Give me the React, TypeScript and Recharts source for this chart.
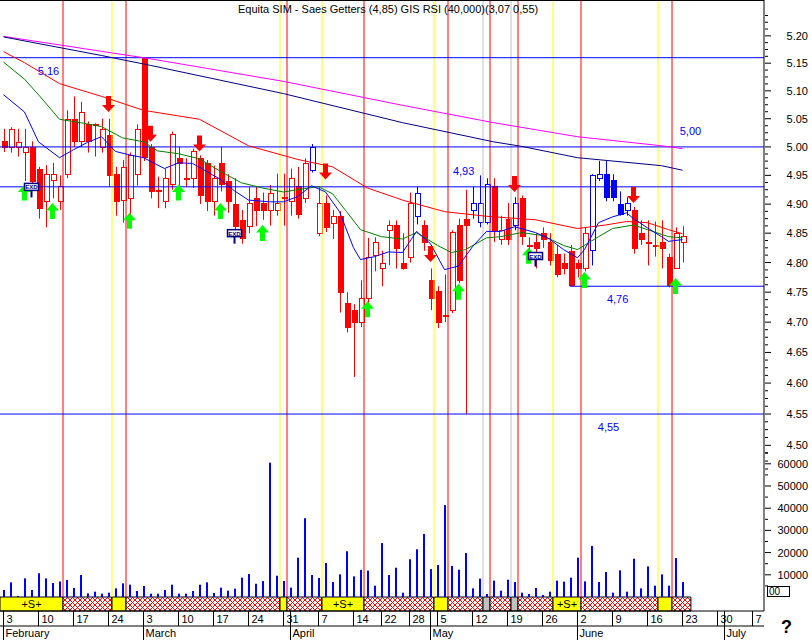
import React from 'react';
import {
  ComposedChart, Bar, Line, Scatter, XAxis, YAxis,
  ReferenceLine, ReferenceArea, ReferenceDot,
} from 'recharts';

// daily candles, 3 Feb - 23 Jun (trading days only)
const OPEN = [
  5.011, 5.0, 5.0, 4.991, 5.0, 4.962, 4.905, 4.942, 4.905, 4.952,
  5.05, 5.011, 5.04, 5.04, 5.0, 5.021, 4.952, 4.907, 4.91, 4.952,
  5.16, 5.0, 4.925, 4.905, 4.935, 4.98, 4.945, 4.945, 4.98, 4.972,
  4.905, 4.972, 4.94, 4.9, 4.873, 4.862, 4.91, 4.902, 4.89, 4.89,
  4.912, 4.905, 4.932, 4.91, 4.96, 4.85, 4.902, 4.868, 4.88, 4.732,
  4.72, 4.7, 4.74, 4.812, 4.79, 4.855, 4.864, 4.8, 4.81, 4.88,
  4.864, 4.77, 4.752, 4.712, 4.72, 4.864, 4.874, 4.89, 4.87, 4.87,
  4.932, 4.84, 4.874, 4.864, 4.91, 4.83, 4.835, 4.85, 4.835, 4.815,
  4.8, 4.82, 4.8, 4.79, 4.822, 4.945, 4.952, 4.942, 4.9, 4.89,
  4.89, 4.85, 4.835, 4.83, 4.835, 4.81, 4.79, 4.835,
];
const HIGH = [
  5.032, 5.035, 5.032, 5.032, 5.01, 4.965, 4.968, 4.972, 4.95, 5.065,
  5.09, 5.08, 5.045, 5.042, 5.05, 5.05, 4.965, 4.977, 4.99, 5.04,
  5.16, 5.005, 4.948, 4.962, 5.027, 5.0, 4.98, 4.997, 4.985, 4.977,
  4.967, 5.0, 4.952, 4.945, 4.89, 4.93, 4.93, 4.92, 4.933, 4.953,
  4.953, 4.962, 4.965, 4.98, 5.005, 4.93, 4.915, 4.89, 4.888, 4.75,
  4.73, 4.77, 4.842, 4.843, 4.82, 4.872, 4.872, 4.85, 4.92, 4.93,
  4.872, 4.79, 4.76, 4.78, 4.855, 4.875, 4.925, 4.93, 4.95, 4.945,
  4.945, 4.88, 4.902, 4.912, 4.915, 4.843, 4.85, 4.86, 4.85, 4.83,
  4.815, 4.83, 4.805, 4.86, 4.952, 4.975, 4.975, 4.952, 4.922, 4.912,
  4.895, 4.872, 4.872, 4.87, 4.872, 4.815, 4.86, 4.862,
];
const LOW = [
  4.991, 4.99, 4.983, 4.94, 4.935, 4.875, 4.86, 4.91, 4.89, 4.945,
  5.0, 5.0, 4.99, 4.983, 4.99, 4.93, 4.88, 4.868, 4.88, 4.932,
  4.975, 4.91, 4.893, 4.893, 4.925, 4.932, 4.93, 4.928, 4.9, 4.888,
  4.88, 4.922, 4.885, 4.855, 4.832, 4.85, 4.862, 4.873, 4.863, 4.88,
  4.863, 4.88, 4.875, 4.902, 4.955, 4.845, 4.852, 4.84, 4.716, 4.683,
  4.61, 4.692, 4.73, 4.785, 4.76, 4.795, 4.79, 4.788, 4.8, 4.865,
  4.82, 4.72, 4.69, 4.7, 4.715, 4.765, 4.55, 4.875, 4.86, 4.865,
  4.835, 4.83, 4.83, 4.855, 4.83, 4.815, 4.79, 4.825, 4.795, 4.775,
  4.78, 4.76, 4.775, 4.785, 4.795, 4.94, 4.905, 4.905, 4.88, 4.88,
  4.815, 4.83, 4.795, 4.81, 4.79, 4.758, 4.79, 4.8,
];
const CLOSE = [
  5.0, 5.032, 5.009, 5.0, 4.94, 4.893, 4.952, 4.952, 4.932, 5.05,
  5.011, 5.062, 5.011, 5.038, 5.032, 4.95, 4.905, 4.965, 4.985, 5.032,
  4.983, 4.922, 4.922, 4.945, 5.022, 4.972, 4.943, 4.993, 4.915, 4.905,
  4.945, 4.935, 4.905, 4.862, 4.842, 4.902, 4.89, 4.89, 4.92, 4.902,
  4.91, 4.945, 4.883, 4.972, 5.0, 4.902, 4.86, 4.88, 4.75, 4.692,
  4.7, 4.74, 4.81, 4.835, 4.8, 4.864, 4.825, 4.79, 4.902, 4.92,
  4.835, 4.74, 4.7, 4.71, 4.852, 4.77, 4.864, 4.902, 4.902, 4.935,
  4.855, 4.855, 4.84, 4.902, 4.845, 4.828, 4.825, 4.84, 4.805, 4.78,
  4.79, 4.762, 4.79, 4.85, 4.95, 4.952, 4.912, 4.912, 4.883, 4.902,
  4.825, 4.84, 4.833, 4.83, 4.825, 4.762, 4.85, 4.845,
];
const BLUE_CANDLES = [44, 59, 67, 68, 69, 73, 84, 85, 86, 87, 88, 89];
const VOLUME = [
  3150, 6600, 500, 8400, 3150, 10700, 8400, 6300, 7000, 7650,
  4050, 9900, 1650, 2400, 1500, 1950, 3900, 6150, 5550, 2700,
  4950, 1500, 1500, 3150, 5550, 1500, 1500, 2700, 5550, 6600,
  1800, 4200, 2850, 3750, 8700, 10350, 6000, 7200, 60500, 9600,
  7200, 4200, 17700, 35500, 9900, 8550, 15300, 6750, 10200, 20600,
  9300, 12200, 11900, 5100, 24300, 9900, 13200, 1950, 17000, 21500,
  28400, 12600, 14400, 41400, 14000, 12300, 19800, 3900, 8300, 1350,
  7350, 2850, 7800, 6750, 1950, 1350, 4050, 900, 2400, 7350,
  6900, 8700, 17700, 7050, 23000, 6750, 11250, 1950, 12000, 2400,
  17250, 3900, 13800, 5100, 10200, 5100, 17550, 6750,
];

// moving averages, read at the candles listed in *_AT
const MA_MAGENTA_AT = [0, 21, 40, 57, 70, 82, 94, 97];
const MA_MAGENTA = [5.199, 5.158, 5.117, 5.074, 5.043, 5.018, 5.002, 4.997];
const MA_NAVY_AT = [0, 14, 21, 40, 57, 70, 74, 82, 94, 97];
const MA_NAVY = [5.198, 5.164, 5.146, 5.095, 5.043, 5.009, 5.001, 4.981, 4.967, 4.959];
const MA_RED_AT = [0, 3, 8, 14, 20, 28, 35, 42, 47, 52, 57, 63, 69, 76, 82, 86, 89, 92, 95, 97];
const MA_RED = [5.171, 5.151, 5.113, 5.09, 5.065, 5.049, 5.002, 4.978, 4.965, 4.928,
  4.907, 4.887, 4.879, 4.873, 4.858, 4.864, 4.87, 4.868, 4.856, 4.849];
const MA_GREEN_AT = [0, 3, 5, 8, 11, 14, 17, 20, 22, 25, 28, 31, 34, 37, 40, 43, 45, 47, 49, 51,
  54, 57, 59, 62, 64, 66, 69, 71, 74, 77, 80, 82, 85, 87, 90, 92, 95, 97];
const MA_GREEN = [5.152, 5.121, 5.093, 5.049, 5.043, 5.036, 5.016, 5.009, 4.993, 4.988,
  4.979, 4.957, 4.937, 4.928, 4.921, 4.927, 4.93, 4.918, 4.887, 4.856,
  4.844, 4.84, 4.851, 4.829, 4.817, 4.822, 4.842, 4.844, 4.851, 4.846,
  4.829, 4.822, 4.844, 4.858, 4.864, 4.856, 4.844, 4.842];
const MA_BLUE_AT = [0, 3, 5, 8, 10, 12, 14, 16, 18, 20, 23, 25, 27, 29, 31, 33, 35, 38, 40, 42,
  44, 46, 48, 50, 51, 53, 55, 57, 59, 61, 63, 65, 67, 69, 71, 73, 76, 78, 80, 82,
  83, 85, 87, 89, 90, 92, 94, 95, 97];
const MA_BLUE = [5.093, 5.062, 5.009, 4.981, 4.995, 5.008, 5.018, 4.992, 4.986, 4.981,
  4.962, 4.972, 4.971, 4.957, 4.943, 4.923, 4.907, 4.904, 4.904, 4.913,
  4.932, 4.921, 4.887, 4.825, 4.805, 4.81, 4.818, 4.817, 4.853, 4.832,
  4.788, 4.794, 4.827, 4.853, 4.853, 4.861, 4.851, 4.84, 4.822, 4.808,
  4.822, 4.868, 4.878, 4.885, 4.875, 4.859, 4.844, 4.836, 4.839];

// signals
const SELL_AT = [15, 21, 28, 46, 61, 73, 90];
const SELL_PRICE = [5.062, 5.009, 4.992, 4.943, 4.801, 4.921, 4.902];
const BUY_AT = [3, 7, 18, 25, 31, 37, 52, 65, 75, 83, 96];
const BUY_PRICE = [4.934, 4.902, 4.885, 4.934, 4.902, 4.864, 4.735, 4.764, 4.825, 4.784, 4.774];
const EXD_AT = [4, 33, 76];
const EXD_PRICE = [4.936, 4.856, 4.817];

const RED_LINES = [8.5, 17.5, 40.5, 51.5, 63.5, 69.5, 73.5, 82.5, 95.5];
const YELLOW_LINES = [15.5, 39.5, 45.5, 61.5, 78.5, 93.5];
const GREY_LINES = [68.5, 72.5];

const LEVELS = [5.16, 5.0, 4.93, 4.76, 4.55];
const LEVEL_TEXT = ['5,16', '5,00', '4,93', '4,76', '4,55'];
const LEVEL_TEXT_AT = [4.9, 96.6, 64.2, 86.2, 84.9];
const LEVEL_TEXT_BELOW = [true, false, false, true, true];
const LEVEL_FROM = [null, null, null, 80.9, null];

const STRIP_FROM = [-0.5, 8.5, 15.5, 17.5, 39.5, 40.5, 45.5, 51.5, 61.5, 63.5, 68.5, 69.5, 72.5, 73.5, 78.5, 82.5, 93.5, 95.5];
const STRIP_TO = [8.5, 15.5, 17.5, 39.5, 40.5, 45.5, 51.5, 61.5, 63.5, 68.5, 69.5, 72.5, 73.5, 78.5, 82.5, 93.5, 95.5, 98.2];
const STRIP_KIND = ['S', 'h', 'y', 'h', 'y', 'h', 'S', 'h', 'y', 'h', 'g', 'h', 'g', 'h', 'S', 'h', 'y', 'h'];

const DAY_TICKS = [0, 5, 10, 15, 20, 25, 30, 35, 40, 45, 50, 54, 58, 62, 67, 72, 77, 82, 87, 92, 97, 102, 107];
const DAY_LABELS = ['3', '10', '17', '24', '3', '10', '17', '24', '31', '7', '14', '22', '28', '5', '12', '19', '26', '2', '9', '16', '23', '30', '7'];
const MONTH_TICKS = [0, 20, 41, 61, 82, 103];
const MONTH_LABELS = ['February', 'March', 'April', 'May', 'June', 'July'];

const PRICE_LABELS = [4.5, 4.55, 4.6, 4.65, 4.7, 4.75, 4.8, 4.85, 4.9, 4.95, 5.0, 5.05, 5.1, 5.15, 5.2];
const VOLUME_LABELS = [10000, 20000, 30000, 40000, 50000, 60000];

const TITLE = 'Equita SIM - Saes Getters (4,85) GIS RSI (40,000)(3,07 0,55)';

// layout
const W = 812;
const H = 640;
const AXIS_X = 765;
const ROW1 = 611;
const ROW2 = 626;
const X_DOMAIN = [-0.5, 108.64];
const PRICE_DOMAIN = [4.2443, 5.2662];
const VOL_DOMAIN = [-6306, 268919];
const FONT = '"Liberation Sans", Arial, sans-serif';

const RED = '#ff0000';
const BLUE = '#0000ff';

const rows = OPEN.map((o, i) => ({
  i,
  open: o,
  high: HIGH[i],
  low: LOW[i],
  close: CLOSE[i],
  range: [LOW[i], HIGH[i]],
  blue: BLUE_CANDLES.includes(i),
  vol: VOLUME[i],
}));

const series = (idx: number[], vals: number[]) => idx.map((i, k) => ({ i, v: vals[k] }));
const MAS = [
  { key: 'magenta', color: '#ff00ff', data: series(MA_MAGENTA_AT, MA_MAGENTA) },
  { key: 'navy', color: '#000080', data: series(MA_NAVY_AT, MA_NAVY) },
  { key: 'red', color: RED, data: series(MA_RED_AT, MA_RED) },
  { key: 'green', color: '#008000', data: series(MA_GREEN_AT, MA_GREEN) },
  { key: 'blue', color: BLUE, data: series(MA_BLUE_AT, MA_BLUE) },
];

const sells = SELL_AT.map((i, k) => ({ i, p: SELL_PRICE[k] }));
const buys = BUY_AT.map((i, k) => ({ i, p: BUY_PRICE[k] }));
const exds = EXD_AT.map((i, k) => ({ i, p: EXD_PRICE[k] }));

const PRICE_TICKS = [4.4625, 4.475, 4.4875, ...PRICE_LABELS.flatMap(v => [v, v + 0.0125, v + 0.025, v + 0.0375])];
const VOL_TICKS = [0, 5000, ...VOLUME_LABELS.flatMap(v => [v, v + 5000])];

// candle drawn inside the low-high bar; open/close placed on the log scale
const Candle = (props: any) => {
  const { x, y, width, height, payload } = props;
  if (x == null || y == null) return null;
  const { open, close, high, low, blue } = payload;
  const color = blue ? BLUE : RED;
  const cx = Math.round(x + width / 2) + 0.5;
  const lh = Math.log(high);
  const span = lh - Math.log(low);
  const yOf = (v: number) => (span > 0 ? y + (height * (lh - Math.log(v))) / span : y);
  const yo = yOf(open);
  const yc = yOf(close);
  const top = Math.round(Math.min(yo, yc)) + 0.5;
  const bot = Math.round(Math.max(yo, yc)) + 0.5;
  const hollow = close >= open;
  return (
    <g>
      <line x1={cx} x2={cx} y1={y} y2={y + height} stroke={color} />
      <rect x={cx - 2.5} y={top} width={5} height={Math.max(bot - top, 1)}
        fill={hollow ? '#fff' : color} stroke={color} shapeRendering="crispEdges" />
    </g>
  );
};

const SellArrow = (p: any) => (
  <path d={`M${p.cx - 2.5},${p.cy - 16} h5 v9 h4 L${p.cx},${p.cy} L${p.cx - 6.5},${p.cy - 7} h4 z`} fill={RED} />
);
const BuyArrow = (p: any) => (
  <path d={`M${p.cx},${p.cy} L${p.cx + 6.5},${p.cy + 7.5} h-4 v8.5 h-5 v-8.5 h-4 z`} fill="#00ff00" />
);
const ExdFlag = (p: any) => (
  <g>
    <line x1={p.cx} x2={p.cx} y1={p.cy + 6} y2={p.cy + 14} stroke="#000080" strokeWidth={2} />
    <rect x={p.cx - 7} y={p.cy} width={14} height={7} fill="#fff" stroke="#000080" strokeWidth={1.5} />
    <text x={p.cx} y={p.cy + 6} fontSize={6} fontFamily={FONT} fontWeight="bold" fill="#000080" textAnchor="middle">EXD</text>
  </g>
);

const PriceTick = (props: any) => {
  const { y, payload } = props;
  const v = payload.value;
  const major = PRICE_LABELS.some(l => Math.abs(l - v) < 1e-6);
  return (
    <g>
      <line x1={AXIS_X} x2={AXIS_X + (major ? 6 : 3)} y1={y} y2={y} stroke="#000" />
      {major && (
        <text x={808} y={y + 4} textAnchor="end" fontSize={11} fontFamily={FONT} fill="#000">{v.toFixed(2)}</text>
      )}
    </g>
  );
};

const VolTick = (props: any) => {
  const { y, payload } = props;
  const v = payload.value;
  if (v === 0) {
    return (
      <g>
        <rect x={767.5} y={y - 10.5} width={22} height={10} fill="#fff" stroke="#000" />
        <text x={769} y={y - 2} fontSize={10} fontFamily={FONT} fill="#000">00</text>
      </g>
    );
  }
  const major = VOLUME_LABELS.includes(v);
  return (
    <g>
      <line x1={AXIS_X} x2={AXIS_X + (major ? 6 : 3)} y1={y} y2={y} stroke="#000" />
      {major && (
        <text x={808} y={y + 4} textAnchor="end" fontSize={11} fontFamily={FONT} fill="#000">{v}</text>
      )}
    </g>
  );
};

const DayTick = (props: any) => {
  const { x, payload } = props;
  const k = DAY_TICKS.indexOf(payload.value);
  const lx = Math.round(x) - 0.5;
  return (
    <g>
      <line x1={lx} x2={lx} y1={ROW1} y2={ROW2} stroke="#000" />
      <text x={lx + 3} y={ROW2 - 3} fontSize={11} fontFamily={FONT} fill="#000">{DAY_LABELS[k]}</text>
    </g>
  );
};

const MonthTick = (props: any) => {
  const { x, payload } = props;
  const k = MONTH_TICKS.indexOf(payload.value);
  const lx = Math.round(x) - 0.5;
  return (
    <g>
      <line x1={lx} x2={lx} y1={ROW1} y2={H} stroke="#000" />
      <text x={lx + 2} y={H - 3} fontSize={11} fontFamily={FONT} fill="#000">{MONTH_LABELS[k]}</text>
    </g>
  );
};

const stripFill = (kind: string) =>
  kind === 'h' ? 'url(#hatch)' : kind === 'g' ? '#c0c0c0' : '#ffff00';

const vLine = (v: number, color: string, key: string) => (
  <ReferenceLine key={key} xAxisId="x" yAxisId="vol" stroke={color}
    segment={[{ x: v, y: 0 }, { x: v, y: VOL_DOMAIN[1] }]} />
);

export default function App() {
  return (
    <div style={{ position: 'absolute', left: 0, top: 0, width: W, height: H, background: '#fff' }}>
      <ComposedChart width={W} height={H} data={rows} margin={{ top: 0, right: 0, bottom: 0, left: 0 }}>
        <defs>
          <pattern id="hatch" width="5" height="5" patternUnits="userSpaceOnUse">
            <rect width="5" height="5" fill="#fff" />
            <path d="M0,0 L5,5 M5,0 L0,5" stroke={RED} strokeWidth="1" />
          </pattern>
        </defs>

        <XAxis xAxisId="x" dataKey="i" type="number" domain={X_DOMAIN} allowDataOverflow hide />
        <XAxis xAxisId="xv" dataKey="i" type="number" domain={X_DOMAIN} allowDataOverflow hide />
        <XAxis xAxisId="day" dataKey="i" type="number" domain={X_DOMAIN} allowDataOverflow
          ticks={DAY_TICKS} interval={0} height={15} tickLine={false}
          axisLine={{ stroke: '#000' }} tick={(p: any) => <DayTick {...p} />} />
        <XAxis xAxisId="month" dataKey="i" type="number" domain={X_DOMAIN} allowDataOverflow
          ticks={MONTH_TICKS} interval={0} height={14} tickLine={false}
          axisLine={{ stroke: '#000' }} tick={(p: any) => <MonthTick {...p} />} />

        <YAxis yAxisId="price" orientation="right" width={46} scale="log" domain={PRICE_DOMAIN}
          allowDataOverflow ticks={PRICE_TICKS} interval={0} tickLine={false}
          axisLine={false} tick={(p: any) => <PriceTick {...p} />} />
        <YAxis yAxisId="vol" orientation="right" width={2} domain={VOL_DOMAIN} allowDataOverflow
          ticks={VOL_TICKS} interval={0} tickLine={false} axisLine={false}
          tick={(p: any) => <VolTick {...p} />} />

        {RED_LINES.map((v, k) => vLine(v, RED, `r${k}`))}
        {YELLOW_LINES.map((v, k) => vLine(v, '#ffff00', `y${k}`))}
        {GREY_LINES.map((v, k) => vLine(v, '#c0c0c0', `g${k}`))}

        {LEVELS.map((v, k) =>
          LEVEL_FROM[k] == null ? (
            <ReferenceLine key={`l${k}`} xAxisId="x" yAxisId="price" y={v} stroke={BLUE} />
          ) : (
            <ReferenceLine key={`l${k}`} xAxisId="x" yAxisId="price" stroke={BLUE}
              segment={[{ x: LEVEL_FROM[k] as number, y: v }, { x: X_DOMAIN[1], y: v }]} />
          )
        )}
        <ReferenceLine xAxisId="x" yAxisId="vol" y={VOL_DOMAIN[1]} stroke="#000" strokeWidth={2} />
        <ReferenceLine xAxisId="x" yAxisId="vol" x={X_DOMAIN[1]} stroke="#000"
          segment={[{ x: X_DOMAIN[1], y: 0 }, { x: X_DOMAIN[1], y: VOL_DOMAIN[1] }]} />

        <Bar xAxisId="xv" yAxisId="vol" dataKey="vol" fill={BLUE} barSize={2} isAnimationActive={false} />
        <Bar xAxisId="x" yAxisId="price" dataKey="range" barSize={6} shape={(p: any) => <Candle {...p} />}
          isAnimationActive={false} />

        {MAS.map(m => (
          <Line key={m.key} xAxisId="x" yAxisId="price" data={m.data} dataKey="v" stroke={m.color}
            strokeWidth={1} dot={false} activeDot={false} isAnimationActive={false} />
        ))}

        <Scatter xAxisId="x" yAxisId="price" data={sells} dataKey="p" shape={(p: any) => <SellArrow {...p} />} isAnimationActive={false} />
        <Scatter xAxisId="x" yAxisId="price" data={buys} dataKey="p" shape={(p: any) => <BuyArrow {...p} />} isAnimationActive={false} />
        <Scatter xAxisId="x" yAxisId="price" data={exds} dataKey="p" shape={(p: any) => <ExdFlag {...p} />} isAnimationActive={false} />

        {LEVELS.map((v, k) => (
          <ReferenceDot key={`t${k}`} xAxisId="x" yAxisId="price" x={LEVEL_TEXT_AT[k]} y={v} r={0}
            shape={(p: any) => (
              <text x={p.cx} y={p.cy + (LEVEL_TEXT_BELOW[k] ? 17 : -12)} fontSize={11} fontFamily={FONT} fill={BLUE}>
                {LEVEL_TEXT[k]}
              </text>
            )} />
        ))}

        {STRIP_FROM.map((f, k) => (
          <ReferenceArea key={`s${k}`} xAxisId="x" yAxisId="vol" x1={f} x2={STRIP_TO[k]}
            y1={VOL_DOMAIN[0]} y2={0} fill={stripFill(STRIP_KIND[k])} fillOpacity={1}
            stroke="#000" strokeWidth={1}
            label={STRIP_KIND[k] === 'S' ? { value: '+S+', position: 'center', fill: '#000', fontSize: 11, fontFamily: FONT } : undefined} />
        ))}
      </ComposedChart>

      <div style={{ position: 'absolute', left: 238, top: 3, font: `11px ${FONT}`, whiteSpace: 'nowrap', color: '#000' }}>
        {TITLE}
      </div>
      <div style={{ position: 'absolute', left: 781, top: 617, font: `bold 18px ${FONT}`, color: '#000' }}>?</div>
    </div>
  );
}
